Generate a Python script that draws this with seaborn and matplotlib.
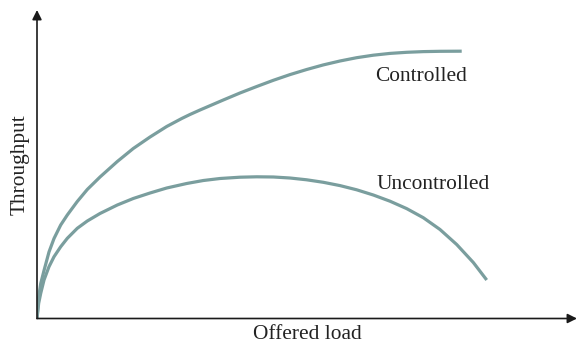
import matplotlib
matplotlib.use('Agg')
import matplotlib.pyplot as plt
import seaborn as sns
import pandas as pd

# values (percent of axis length)
load_ctrl = [0, 0.31, 0.69, 1.30, 2.22, 3.15, 4.39, 5.61, 7.46, 9.31, 11.67, 14.87, 17.83,
             20.93, 24.02, 26.80, 28.33, 30.19, 34.50, 37.59, 40.69, 43.76, 46.85, 49.94,
             53.02, 56.11, 59.20, 62.28, 65.37, 68.46, 71.54, 74.63, 78.65]
thr_ctrl = [0, 6.97, 11.35, 15.56, 21.56, 25.93, 30.31, 33.55, 37.93, 41.82, 45.87, 50.89, 55.11,
            58.83, 62.24, 64.83, 66.13, 67.59, 70.83, 73.10, 75.20, 77.21, 79.06, 80.71,
            82.20, 83.47, 84.54, 85.35, 85.93, 86.29, 86.51, 86.61, 86.65]

load_unctrl = [0, 0.31, 0.69, 1.30, 2.22, 3.15, 4.39, 5.61, 7.46, 9.31, 11.67, 14.87, 17.83,
               20.93, 24.02, 27.72, 30.80, 33.89, 37.59, 40.69, 43.76, 46.85, 49.94, 53.02,
               56.11, 59.20, 62.28, 65.37, 68.46, 71.54, 74.63, 77.72, 80.80, 83.28]
thr_unctrl = [0, 4.93, 8.17, 12.48, 16.79, 20.02, 23.27, 25.99, 29.24, 31.60, 34.04, 36.79, 38.90,
              40.68, 42.30, 43.76, 44.73, 45.38, 45.80, 45.93, 45.87, 45.54, 44.96, 44.15,
              43.08, 41.72, 40.03, 38.02, 35.62, 32.67, 28.85, 23.99, 18.15, 12.48]

curve_names = ['Controlled', 'Uncontrolled']

df = pd.concat([
    pd.DataFrame({'load': load_ctrl, 'throughput': thr_ctrl, 'curve': curve_names[0]}),
    pd.DataFrame({'load': load_unctrl, 'throughput': thr_unctrl, 'curve': curve_names[1]}),
])

sns.set_style('white')
plt.rcParams['font.family'] = ['Liberation Serif', 'DejaVu Serif']

fig = plt.figure(figsize=(5.78, 3.44), dpi=100)
ax = fig.add_axes([37 / 578, 25.5 / 344, 540 / 578, 308.5 / 344])

line_color = '#7a9e9e'
sns.lineplot(data=df, x='load', y='throughput', hue='curve', units='curve', estimator=None,
             sort=False, palette=[line_color, line_color], linewidth=2.3, legend=False, ax=ax)
for ln in ax.lines:
    ln.set_solid_joinstyle('round')
    ln.set_solid_capstyle('butt')

ax.set_xlim(0, 100)
ax.set_ylim(0, 100)
for s in ax.spines.values():
    s.set_visible(False)
ax.set_xticks([])
ax.set_yticks([])

arrow = dict(arrowstyle='-|>', color='#1a1a1a', lw=1.2, mutation_scale=14, shrinkA=0, shrinkB=0)
ax.annotate('', xy=(1, 0), xytext=(0, 0), xycoords='axes fraction', arrowprops=arrow)
ax.annotate('', xy=(0, 1), xytext=(0, 0), xycoords='axes fraction', arrowprops=arrow)

ax.text(62.6, 78.6, 'Controlled', fontsize=15.4, va='center', ha='left', color='#222222')
ax.text(62.8, 43.3, 'Uncontrolled', fontsize=15.4, va='center', ha='left', color='#222222')

ax.set_xlabel('Offered load', fontsize=15.4, color='#222222', labelpad=5)
ax.set_ylabel('Throughput', fontsize=15.4, color='#222222', labelpad=5)

fig.savefig('out.png', dpi=100)
